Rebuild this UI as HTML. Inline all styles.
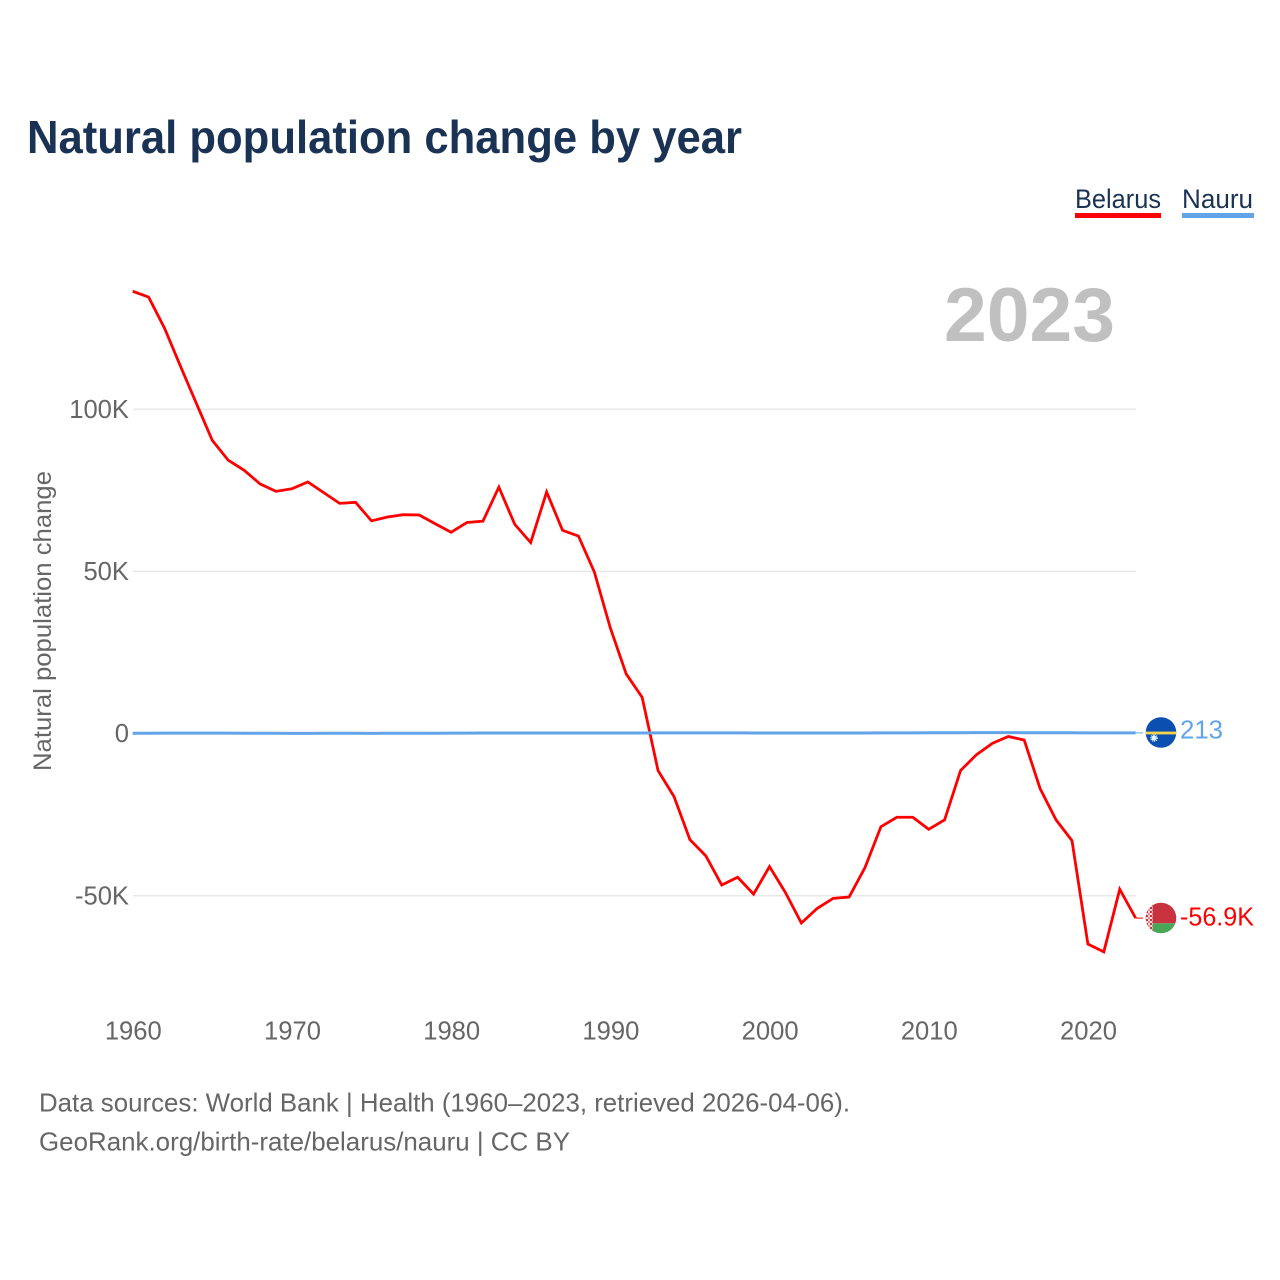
<!DOCTYPE html>
<html lang="en">
<head>
<meta charset="utf-8">
<title>Natural population change by year</title>
<style>
html,body{margin:0;padding:0;background:#fff;width:1280px;height:1280px;overflow:hidden}
svg{display:block;font-family:"Liberation Sans",sans-serif}
</style>
</head>
<body>
<svg id="chart" xmlns="http://www.w3.org/2000/svg" width="1280" height="1280" viewBox="0 0 1280 1280">
  <defs>
    <clipPath id="nr-clip"><circle cx="1161" cy="732.5" r="15.3"/></clipPath>
    <clipPath id="by-clip"><circle cx="1161" cy="918" r="15.3"/></clipPath>
    <pattern id="by-orn" width="4" height="4" patternUnits="userSpaceOnUse" x="1146" y="903">
      <rect width="4" height="4" fill="#f4d8da"/>
      <rect x="0" y="0" width="2" height="2" fill="#c8313e"/>
      <rect x="2" y="2" width="2" height="2" fill="#e08a92"/>
    </pattern>
  </defs>
  <text x="27" y="153" font-size="46" font-weight="700" fill="#1a3354" textLength="715" lengthAdjust="spacingAndGlyphs">Natural population change by year</text>

  <g>
    <g>
      <text x="1075" y="208" font-size="27" fill="#1a3354" textLength="86" lengthAdjust="spacingAndGlyphs">Belarus</text>
      <rect x="1075" y="213" width="86" height="5" fill="#ff0000"/>
    </g>
    <g>
      <text x="1182" y="208" font-size="27" fill="#1a3354" textLength="71" lengthAdjust="spacingAndGlyphs">Nauru</text>
      <rect x="1182" y="213" width="72" height="5" fill="#62a4e8"/>
    </g>
  </g>

  <text x="944" y="341" font-size="76" font-weight="700" fill="#c0c0c0" textLength="171" lengthAdjust="spacingAndGlyphs">2023</text>

  <g id="grid"></g>
  <g id="yticks"></g>
  <g id="xticks"></g>
  <text transform="translate(51,621) rotate(-90)" text-anchor="middle" font-size="25" fill="#666666" textLength="300" lengthAdjust="spacingAndGlyphs">Natural population change</text>
  <g id="series"></g>

  <g clip-path="url(#nr-clip)">
    <rect x="1145" y="717" width="32" height="32" fill="#0b4fb0"/>
    <rect x="1145" y="731.6" width="32" height="2.8" fill="#f7d348"/>
    <circle cx="1154" cy="738" r="2.6" fill="#e8f0fa"/>
    <circle cx="1154" cy="738" r="3.3" fill="none" stroke="#e8f0fa" stroke-width="1.2" stroke-dasharray="1 1"/>
  </g>
  <g clip-path="url(#by-clip)">
    <rect x="1145" y="902" width="32" height="21.3" fill="#c8313e"/>
    <rect x="1145" y="923.3" width="32" height="11" fill="#4aa657"/>
    <rect x="1145" y="902" width="7.7" height="32" fill="url(#by-orn)"/>
  </g>

  <text x="39" y="1111.5" font-size="26" fill="#666666" textLength="811" lengthAdjust="spacingAndGlyphs">Data sources: World Bank | Health (1960–2023, retrieved 2026-04-06).</text>
  <text x="39" y="1150.5" font-size="26" fill="#666666" textLength="531" lengthAdjust="spacingAndGlyphs">GeoRank.org/birth-rate/belarus/nauru | CC BY</text>
</svg>
<script>
var years = [1960,1961,1962,1963,1964,1965,1966,1967,1968,1969,1970,1971,1972,1973,1974,1975,1976,1977,1978,1979,1980,1981,1982,1983,1984,1985,1986,1987,1988,1989,1990,1991,1992,1993,1994,1995,1996,1997,1998,1999,2000,2001,2002,2003,2004,2005,2006,2007,2008,2009,2010,2011,2012,2013,2014,2015,2016,2017,2018,2019,2020,2021,2022,2023];
var belarusValues = [136400,134600,125000,113300,101800,90400,84300,81200,77000,74700,75500,77600,74300,71000,71300,65600,66800,67500,67400,64700,62100,65100,65500,76000,64500,58900,74500,62700,60900,49800,32600,18400,11200,-11400,-19400,-32700,-37700,-46700,-44300,-49500,-41000,-49000,-58400,-53900,-50800,-50400,-41300,-28700,-25800,-25800,-29500,-26600,-11400,-6500,-3000,-900,-2000,-17000,-26600,-33000,-64900,-67300,-48000,-56900];
var nauruValues = [100,120,130,130,130,130,130,120,110,100,80,80,90,90,90,80,100,110,110,110,130,150,170,170,180,180,170,170,170,180,190,190,200,230,230,220,210,210,210,200,200,190,180,190,200,200,200,210,230,240,270,280,280,290,290,290,280,270,260,250,240,240,230,213];
var yTickValues = [100000,50000,0,-50000];
var yTickLabels = ["100K","50K","0","-50K"];
var xTickYears = [1960,1970,1980,1990,2000,2010,2020];
var belarusEndLabel = "-56.9K";
var nauruEndLabel = "213";

var svgNS = "http://www.w3.org/2000/svg";
function xScale(year){ return 132.7 + (year - 1960) * 15.92; }
function yScale(v){ return 733.6 - v * 0.003243; }
function linePath(vals){
  var d = "";
  for (var i = 0; i < vals.length; i++) {
    d += (i ? "L" : "M") + xScale(years[i]).toFixed(2) + " " + yScale(vals[i]).toFixed(2);
  }
  return d;
}
function el(tag, parent, attrs){
  var n = document.createElementNS(svgNS, tag);
  for (var k in attrs) n.setAttribute(k, attrs[k]);
  parent.appendChild(n);
  return n;
}
var gridG = document.getElementById("grid");
var yG = document.getElementById("yticks");
var xG = document.getElementById("xticks");
var seriesG = document.getElementById("series");
var rootSvg = document.getElementById("chart");

yTickValues.forEach(function(v, i){
  if (v !== 0) {
    var gl = el("line", gridG, {x1:133, x2:1136, y1:yScale(v), y2:yScale(v), stroke:"#e9e9e9", "stroke-width":1.6});
    
    
  }
  var t = el("text", yG, {x:129, y:yScale(v) + 8.5, "text-anchor":"end", "font-size":25.6, fill:"#666666"});
  t.textContent = yTickLabels[i];
  
  
});
xTickYears.forEach(function(y){
  var t = el("text", xG, {x:xScale(y) + 0.6, y:1039.4, "text-anchor":"middle", "font-size":25.6, fill:"#666666"});
  t.textContent = String(y);
  
  
});

var belarusLine = el("path", seriesG, {d:linePath(belarusValues), fill:"none", stroke:"#ff0000", "stroke-width":2.8, "stroke-linejoin":"miter"});


var nauruLine = el("path", seriesG, {d:linePath(nauruValues), fill:"none", stroke:"#62a4e8", "stroke-width":3});



var lastB = belarusValues[belarusValues.length - 1];
var lastN = nauruValues[nauruValues.length - 1];
var lastX = xScale(years[years.length - 1]);
var leaderB = el("line", seriesG, {x1:lastX, x2:1143, y1:yScale(lastB), y2:yScale(lastB), stroke:"#ff0000", "stroke-width":1});


var leaderN = el("line", seriesG, {x1:lastX, x2:1143, y1:yScale(lastN), y2:yScale(lastN), stroke:"#62a4e8", "stroke-width":1});



var labelB = el("text", rootSvg, {x:1180, y:yScale(lastB) + 7.5, "font-size":25.6, fill:"#ff0000", textLength:74, lengthAdjust:"spacingAndGlyphs"});
labelB.textContent = belarusEndLabel;


var labelN = el("text", rootSvg, {x:1180, y:yScale(lastN) + 5.5, "font-size":25.6, fill:"#62a4e8", textLength:43, lengthAdjust:"spacingAndGlyphs"});
labelN.textContent = nauruEndLabel;


</script>
</body>
</html>
